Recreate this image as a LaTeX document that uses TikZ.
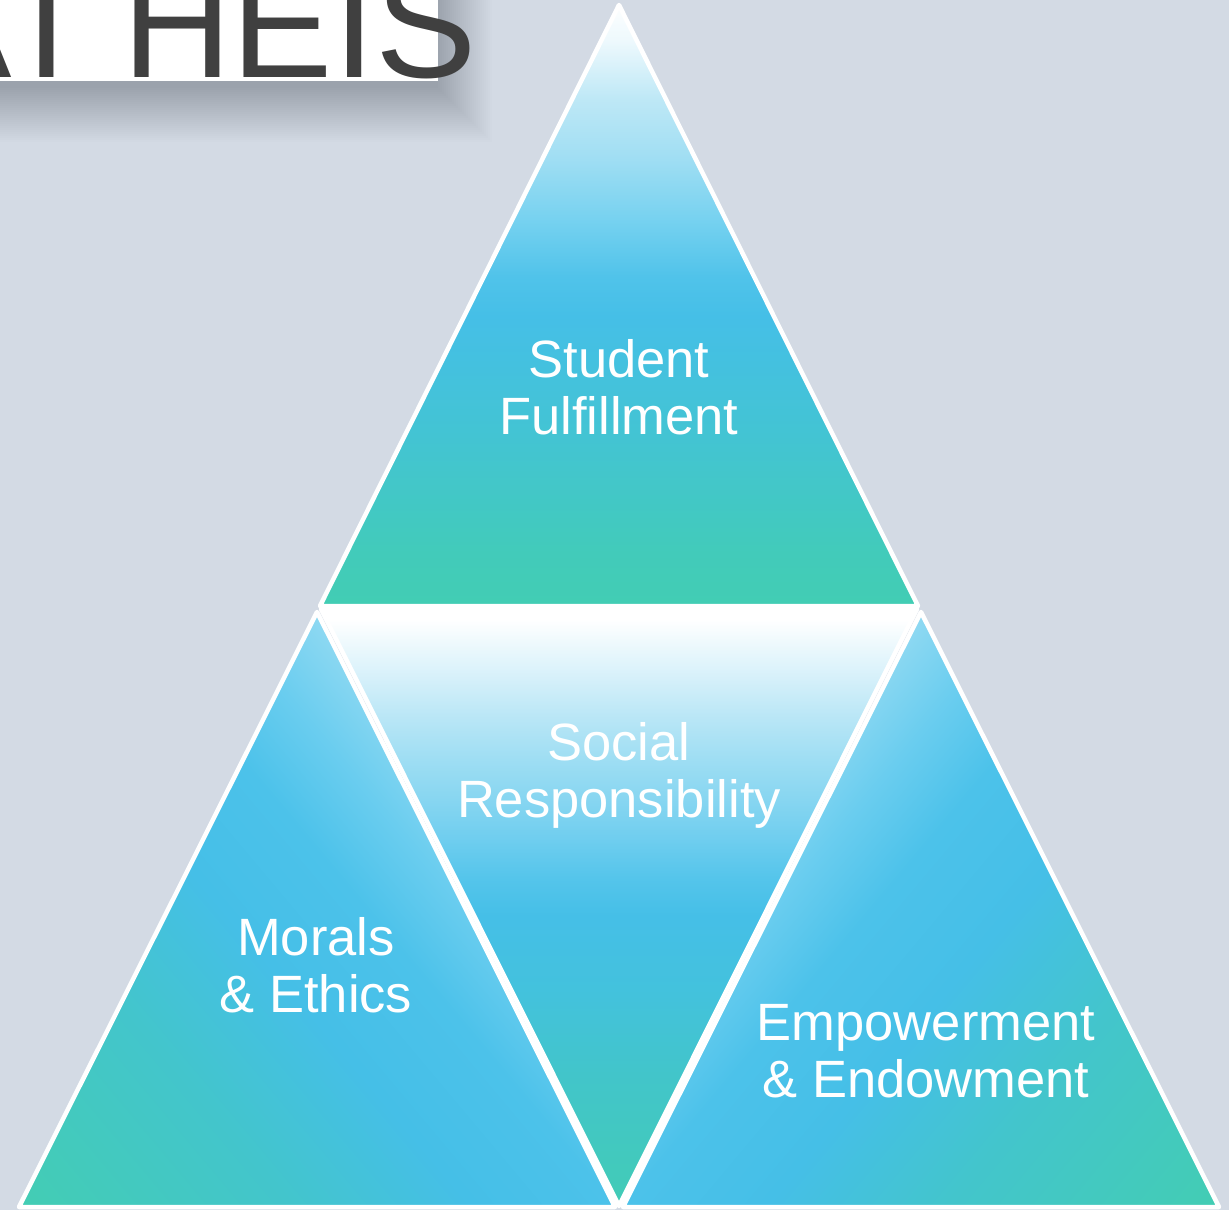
\documentclass[tikz,border=0pt]{standalone}
\usepackage{fontspec}
\setmainfont{Liberation Sans}
\definecolor{bgc}{HTML}{D3DAE4}
\definecolor{titlec}{HTML}{404040}
% top triangle stops
\definecolor{ta}{HTML}{42CDB3}
\definecolor{tb}{HTML}{42CBBA}
\definecolor{tc}{HTML}{43C4D3}
\definecolor{td}{HTML}{45BFE7}
\definecolor{te}{HTML}{50C3EA}
\definecolor{tf}{HTML}{78D2F0}
\definecolor{tg}{HTML}{A0DEF3}
\definecolor{th}{HTML}{BEE8F6}
\definecolor{ti}{HTML}{EEF9FD}
% middle triangle stops
\definecolor{ma}{HTML}{42CCB5}
\definecolor{mb}{HTML}{42CBB8}
\definecolor{mc}{HTML}{42C5CA}
\definecolor{md}{HTML}{43C2DC}
\definecolor{me}{HTML}{45BFE7}
\definecolor{mf}{HTML}{55C5EB}
\definecolor{mg}{HTML}{70CEEF}
\definecolor{mh}{HTML}{88D6F1}
\definecolor{mi}{HTML}{9FDEF3}
\definecolor{mj}{HTML}{B8E6F6}
\definecolor{mk}{HTML}{D5F0FA}
\definecolor{ml}{HTML}{F0FAFD}
% side triangle stops
\definecolor{sa}{HTML}{43CFB0}
\definecolor{sb}{HTML}{43CDB3}
\definecolor{sc}{HTML}{43C5CC}
\definecolor{sd}{HTML}{45BFE7}
\definecolor{se}{HTML}{4CC2EA}
\definecolor{sf}{HTML}{6ACDEF}
\definecolor{sg}{HTML}{8FD9F2}
\definecolor{sh}{HTML}{A0DEF3}

\pgfdeclareverticalshading{topgrad}{100bp}{color(0bp)=(ta); color(25bp)=(ta); color(29.67bp)=(tb); color(39.34bp)=(tc); color(49.1bp)=(td); color(52.3bp)=(te); color(57.2bp)=(tf); color(62.05bp)=(tg); color(66.9bp)=(th); color(71.7bp)=(ti); color(75bp)=(white); color(100bp)=(white)}
\pgfdeclareverticalshading{midgrad}{100bp}{color(0bp)=(ma); color(25bp)=(ma); color(26.4bp)=(mb); color(36.24bp)=(mc); color(42.77bp)=(md); color(49.3bp)=(me); color(52.5bp)=(mf); color(55.8bp)=(mg); color(59.05bp)=(mh); color(62.36bp)=(mi); color(65.6bp)=(mj); color(68.9bp)=(mk); color(72.1bp)=(ml); color(73.76bp)=(white); color(100bp)=(white)}
\pgfdeclareverticalshading{sidegrad}{100bp}{color(0bp)=(sa); color(25bp)=(sa); color(27.2bp)=(sb); color(42.3bp)=(sc); color(52.1bp)=(sd); color(59.9bp)=(se); color(65.4bp)=(sf); color(70.8bp)=(sg); color(75bp)=(sh); color(100bp)=(sh)}

\tikzset{
  tri/.style={draw=white, line width=4.5pt, line join=round},
  lbl/.style={anchor=base, inner sep=0pt, text=white, font=\fontsize{52.5}{57}\selectfont},
  titletxt/.style={anchor=base west, inner sep=0pt, text=titlec, font=\fontsize{152}{160}\selectfont},
}

\begin{document}
\begin{tikzpicture}[x=1pt,y=-1pt]
\useasboundingbox (0,0) rectangle (1229,1210);
\fill[bgc] (0,0) rectangle (1229,1210);

% shadow of title box
\foreach \i in {1,...,28}{
  \fill[black, opacity=0.0075] (-60,-60) rectangle ({436+2*\i},{86+2*\i});
}
\fill[white] (-60,-60) rectangle (438,81);
\node[titletxt] (title) at (-90,77) {\spaceskip=29pt AT HEIS};

% top triangle
\begin{scope}
  \clip (619,5) -- (320,606) -- (918,606) -- cycle;
  \shade[shading=topgrad] (300,0) rectangle (940,610);
\end{scope}
% middle inverted triangle
\begin{scope}
  \clip (321,609) -- (917,609) -- (619,1206) -- cycle;
  \shade[shading=midgrad] (300,605) rectangle (940,1210);
\end{scope}
% bottom-left triangle
\begin{scope}
  \clip (317,612) -- (19,1207) -- (615,1207) -- cycle;
  \begin{scope}[transform canvas={rotate around={-50:(316,910)}}]
    \shade[shading=sidegrad] (-400,660) rectangle (1030,1360);
  \end{scope}
\end{scope}
% bottom-right triangle
\begin{scope}
  \clip (921,612) -- (623,1207) -- (1219,1207) -- cycle;
  \begin{scope}[transform canvas={rotate around={50:(922,910)}}]
    \shade[shading=sidegrad] (207,660) rectangle (1637,1360);
  \end{scope}
\end{scope}

% white outlines
\draw[tri] (619,5) -- (320,606) -- (918,606) -- cycle;
\draw[tri] (321,609) -- (917,609) -- (619,1206) -- cycle;
\draw[tri] (317,612) -- (19,1207) -- (615,1207) -- cycle;
\draw[tri] (921,612) -- (623,1207) -- (1219,1207) -- cycle;

% labels
\node[lbl] (student) at (619,377) {\begin{tabular}[t]{@{}c@{}}Student\\Fulfillment\end{tabular}};
\node[lbl] (social) at (619,760) {\begin{tabular}[t]{@{}c@{}}Social\\Responsibility\end{tabular}};
\node[lbl] (morals) at (316,955) {\begin{tabular}[t]{@{}c@{}}Morals\\\& Ethics\end{tabular}};
\node[lbl] (empower) at (926,1040) {\begin{tabular}[t]{@{}c@{}}Empowerment\\\& Endowment\end{tabular}};
\end{tikzpicture}
\end{document}
